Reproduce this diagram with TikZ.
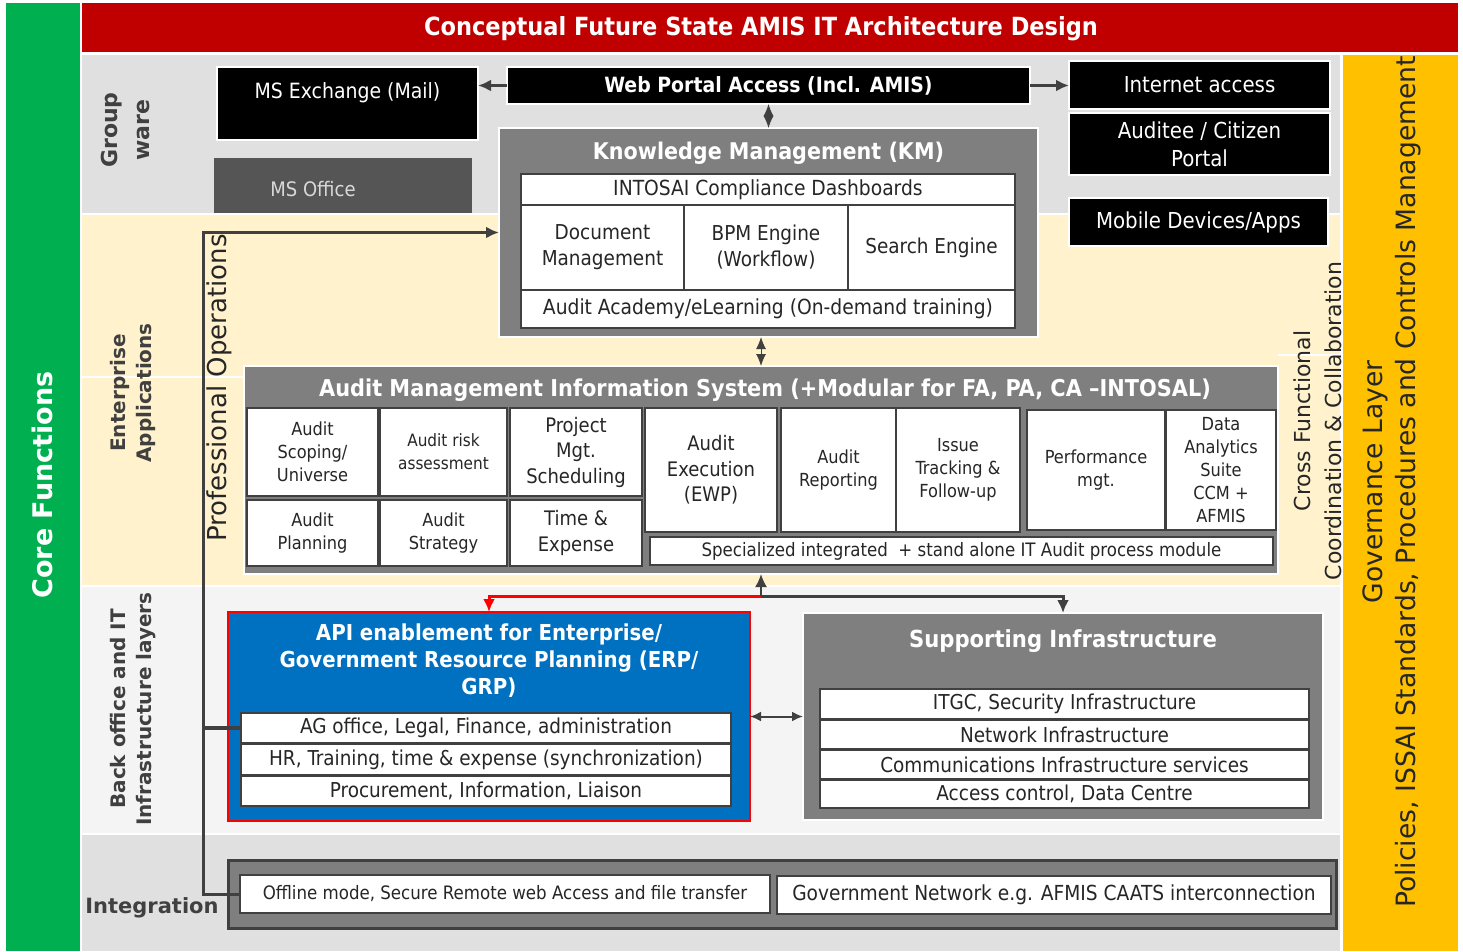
\documentclass[tikz,border=0pt]{standalone}
\usepackage{fontspec}
\setmainfont{DejaVu Sans Condensed}[BoldFont={DejaVu Sans Condensed Bold}]
\newfontfamily\widefont{DejaVu Sans}
\usetikzlibrary{arrows.meta}

\definecolor{coregreen}{HTML}{00B050}
\definecolor{titlered}{HTML}{C00000}
\definecolor{govgold}{HTML}{FFC000}
\definecolor{rowgray}{HTML}{E0E0E0}
\definecolor{rowcream}{HTML}{FFF2CC}
\definecolor{rowlight}{HTML}{F4F4F4}
\definecolor{boxgray}{HTML}{7F7F7F}
\definecolor{officegray}{HTML}{555555}
\definecolor{officetext}{HTML}{D9D9D9}
\definecolor{ink}{HTML}{404040}
\definecolor{bodytext}{HTML}{262626}
\definecolor{apiblue}{HTML}{0070C0}
\definecolor{apired}{HTML}{FF0000}

\newcommand\fsz[2]{\fontsize{#1}{#2}\selectfont}

\tikzset{
  every node/.style={inner sep=0pt, outer sep=0pt},
  blackbox/.style={fill=black, draw=white, line width=1.5pt, text=white,
    align=center, font=\fsz{22}{28}},
  groupbox/.style={fill=boxgray, draw=white, line width=2pt},
  cell/.style={fill=white, draw=ink, line width=1.5pt, align=center,
    text=bodytext, font=\fsz{18}{23}},
  heading/.style={text=white, align=center, font=\bfseries\fsz{23}{27}},
  rowlabel/.style={rotate=90, text=ink, align=center},
  arr/.style={draw=ink, line width=3pt, -{Latex[length=13pt,width=12pt]}},
  biarr/.style={draw=ink, line width=2pt,
    {Latex[length=11pt,width=10pt]}-{Latex[length=11pt,width=10pt]}},
  redarr/.style={draw=apired, line width=3pt,
    -{Latex[length=13pt,width=12pt]}},
  diamondlink/.style={draw=ink, line width=1pt,
    {Latex[length=12pt,width=10pt]}-{Latex[length=12pt,width=10pt]}},
  opline/.style={draw=ink, line width=3pt},
}

\begin{document}
\begin{tikzpicture}[x=1pt, y=-1pt]
\useasboundingbox (0,0) rectangle (1463,951);
\fill[white] (0,0) rectangle (1463,951);

% bands and layer rows
\fill[coregreen] (6,3) rectangle (80,951);
\fill[titlered] (82,3) rectangle (1458,52);
\fill[govgold] (1343,55) rectangle (1458,951);
\fill[rowgray] (82,55) rectangle (1340,213);
\fill[rowcream] (82,215) rectangle (1340,585);
\fill[rowlight] (82,587) rectangle (1340,833);
\fill[rowgray] (82,835) rectangle (1340,951);
\draw[white, line width=2pt] (82,377) -- (245,377);
\draw[white, line width=2pt] (1278,355) -- (1342,355);

% titles and side labels
\node[text=white, font=\bfseries\fsz{25}{30}] (title) at (761,29)
  {Conceptual Future State AMIS IT Architecture Design};
\node[rotate=90, text=white, font=\widefont\bfseries\fsz{27}{31}] (core) at (42,485)
  {Core Functions};
\node[rotate=90, align=center, text=bodytext, font=\widefont\fsz{26.6}{33}] (gov) at (1392,482)
  {Governance Layer\\Policies, ISSAI Standards, Procedures and Controls Management};
\node[rowlabel, font=\widefont\bfseries\fsz{22}{32}] (lblgroup) at (125,130) {Group\\ware};
\node[rowlabel, font=\widefont\bfseries\fsz{20}{26}] (lblent) at (133,393)
  {Enterprise\\Applications};
\node[rowlabel, font=\widefont\bfseries\fsz{20}{26}] (lblback) at (133,709)
  {Back office and IT\\Infrastructure layers};
\node[text=ink, font=\widefont\bfseries\fsz{21}{26}] (lblint) at (152,908) {Integration};
\node[rotate=90, text=bodytext, font=\widefont\fsz{26}{30}] (profops) at (219,388)
  {Professional Operations};
\node[rotate=90, align=center, text=bodytext, font=\widefont\fsz{22}{31}] (cross) at (1318,421)
  {Cross Functional\\Coordination \& Collaboration};

% groupware
\node[blackbox, minimum width=261pt, minimum height=73pt] (exch) at (347.5,103.5) {};
\node[text=white, font=\fsz{21}{26}] (exchtxt) at ([yshift=-26pt]exch.north) {MS Exchange (Mail)};
\node[fill=officegray, minimum width=258pt, minimum height=55pt] (office) at (343,185.5) {};
\node[text=officetext, font=\fsz{20}{25}] (officetxt) at ([xshift=-30pt,yshift=-4pt]office.center) {MS Office};
\node[blackbox, font=\bfseries\fsz{21}{26}, minimum width=523pt, minimum height=37pt] (web) at (768.5,85.5)
  {Web Portal Access (Incl. AMIS)};
\node[blackbox, minimum width=261pt, minimum height=48pt] (inet) at (1199.5,85) {Internet access};
\node[blackbox, minimum width=261pt, minimum height=62pt] (audi) at (1199.5,144) {Auditee / Citizen\\Portal};
\node[blackbox, minimum width=259pt, minimum height=48pt] (mob) at (1198.5,222) {Mobile Devices/Apps};

% knowledge management
\node[groupbox, minimum width=539pt, minimum height=209pt] (km) at (768.5,232.5) {};
\node[heading] (kmtitle) at ([yshift=-25pt]km.north) {Knowledge Management (KM)};
\node[cell, font=\fsz{20.8}{25}, minimum width=494pt, minimum height=32pt] (km1) at (768,190)
  {INTOSAI Compliance Dashboards};
\node[cell, font=\fsz{20.5}{26}, minimum width=163pt, minimum height=85pt] (km2) at (602.5,247.5)
  {Document\\Management};
\node[cell, font=\fsz{20.5}{26}, minimum width=164pt, minimum height=85pt] (km3) at (766,247.5)
  {BPM Engine\\(Workflow)};
\node[cell, font=\fsz{20.5}{26}, minimum width=167pt, minimum height=85pt] (km4) at (931.5,247.5)
  {Search Engine};
\node[cell, font=\fsz{20.8}{25}, minimum width=494pt, minimum height=38pt] (km5) at (768,309)
  {Audit Academy/eLearning (On-demand training)};

% audit management information system
\node[groupbox, minimum width=1034pt, minimum height=208pt] (amis) at (761,470) {};
\node[heading, font=\bfseries\fsz{23.2}{28}] (amistitle) at ([xshift=4pt,yshift=-24pt]amis.north)
  {Audit Management Information System (+Modular for FA, PA, CA –INTOSAL)};
\node[cell, minimum width=131pt, minimum height=88pt] (a1) at (312.5,452) {Audit\\Scoping/\\Universe};
\node[cell, font=\fsz{17}{23}, minimum width=127pt, minimum height=88pt] (a2) at (443.5,452) {Audit risk\\assessment};
\node[cell, font=\fsz{20}{25.5}, minimum width=132pt, minimum height=88pt] (a3) at (576,452) {Project\\Mgt.\\Scheduling};
\node[cell, minimum width=131pt, minimum height=66pt] (a4) at (312.5,533) {Audit\\Planning};
\node[cell, minimum width=127pt, minimum height=66pt] (a5) at (443.5,533) {Audit\\Strategy};
\node[cell, font=\fsz{20}{25.5}, minimum width=132pt, minimum height=66pt] (a6) at (576,533) {Time \&\\Expense};
\node[cell, font=\fsz{20}{25.5}, minimum width=132pt, minimum height=124pt] (a7) at (711,470) {Audit\\Execution\\(EWP)};
\node[cell, minimum width=115pt, minimum height=124pt] (a8) at (838.5,470) {Audit\\Reporting};
\node[cell, minimum width=124pt, minimum height=124pt] (a9) at (958,470) {Issue\\Tracking \&\\Follow-up};
\node[cell, minimum width=138pt, minimum height=120pt] (a10) at (1096,470) {Performance\\mgt.};
\node[cell, minimum width=110pt, minimum height=120pt] (a11) at (1221,470) {Data\\Analytics\\Suite\\CCM +\\AFMIS};
\node[cell, font=\fsz{18.5}{23}, minimum width=623pt, minimum height=28pt] (a12) at (961.5,551)
  {Specialized integrated \ + stand alone IT Audit process module};

% ERP / GRP enablement
\node[fill=apiblue, draw=apired, line width=2pt, minimum width=522pt, minimum height=209pt] (api) at (489,716.5) {};
\node[heading, font=\bfseries\fsz{22}{27}] (apititle) at ([yshift=-49pt]api.north)
  {API enablement for Enterprise/\\Government Resource Planning (ERP/\\GRP)};
\node[cell, font=\fsz{20.5}{24}, minimum width=490pt, minimum height=30pt] (ap1) at (486,728)
  {AG office, Legal, Finance, administration};
\node[cell, font=\fsz{20.5}{24}, minimum width=490pt, minimum height=31pt] (ap2) at (486,759.5)
  {HR, Training, time \& expense (synchronization)};
\node[cell, font=\fsz{20.5}{24}, minimum width=490pt, minimum height=30pt] (ap3) at (486,791)
  {Procurement, Information, Liaison};

% supporting infrastructure
\node[groupbox, line width=1.5pt, minimum width=520pt, minimum height=207pt] (sup) at (1063,716.5) {};
\node[heading, font=\bfseries\fsz{23.5}{27}] (suptitle) at ([yshift=-28pt]sup.north) {Supporting Infrastructure};
\node[cell, font=\fsz{20.5}{24}, minimum width=489pt, minimum height=30pt] (s1) at (1064.5,704) {ITGC, Security Infrastructure};
\node[cell, font=\fsz{20.5}{24}, minimum width=489pt, minimum height=29pt] (s2) at (1064.5,734.5) {Network Infrastructure};
\node[cell, font=\fsz{20.5}{24}, minimum width=489pt, minimum height=29pt] (s3) at (1064.5,764.5) {Communications Infrastructure services};
\node[cell, font=\fsz{20.5}{24}, minimum width=489pt, minimum height=28pt] (s4) at (1064.5,794) {Access control, Data Centre};

% integration
\node[fill=boxgray, draw=ink, line width=3pt, minimum width=1108pt, minimum height=68pt] (integ) at (782,894) {};
\node[cell, font=\fsz{18.5}{22}, minimum width=530pt, minimum height=38pt] (i1) at (505,894)
  {Offline mode, Secure Remote web Access and file transfer};
\node[cell, font=\fsz{20.7}{24}, minimum width=554pt, minimum height=38pt] (i2) at (1054,895)
  {Government Network e.g. AFMIS CAATS interconnection};

% connectors
\coordinate (po) at (203,0);
\coordinate (hub) at (761,596);
\draw[arr] (web.west) -- (web.west -| exch.east);
\draw[arr] (web.east) -- (web.east -| inet.west);
\draw[diamondlink] (web.south) -- (km.north);
\draw[diamondlink] (km.south -| amis.north) -- (amis.north);
\draw[opline, -{Latex[length=13pt,width=12pt]}] (i1.west) -- (po |- i1.west) |- (km.west);
\draw[opline, line width=4pt] (po |- ap1.west) -- (ap1.west);
\draw[redarr] (hub) -| (api.north);
\draw[arr] (hub) -| (sup.north);
\draw[arr, line width=2pt] (hub) -- (amis.south);
\draw[biarr] (api.east) -- (sup.west);
\end{tikzpicture}
\end{document}
